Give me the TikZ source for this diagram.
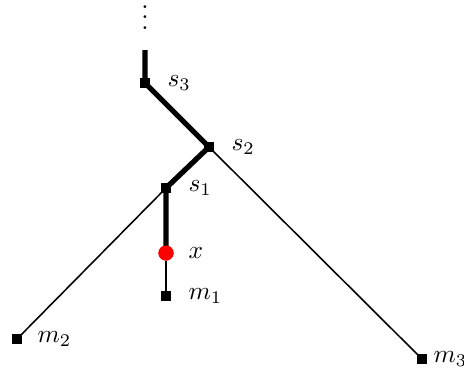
\documentclass[tikz,border=0pt]{standalone}
\begin{document}
\begin{tikzpicture}[x=0.41667pt,y=-0.41667pt,
  vert/.style={draw=none,fill=black,minimum size=4.2pt,inner sep=0pt,outer sep=0pt,rectangle},
  redpt/.style={circle,fill=red,draw=none,minimum size=6.3pt,inner sep=0pt},
  lab/.style={anchor=west,inner sep=0pt,scale=1.06},
  heavy/.style={line width=2.2pt},
  light/.style={line width=0.65pt}]
\useasboundingbox (0,0) rectangle (464,371);
\node[inner sep=0pt,scale=1.1,anchor=south] (dots) at (145,30) {$\vdots$};
\coordinate (top) at (145,50);
\node[vert] (s3) at (145,83) {};
\node[vert] (s2) at (209,147) {};
\node[vert] (s1) at (166,188) {};
\node[redpt] (x) at (166,253) {};
\node[vert] (m1) at (166,296) {};
\node[vert] (m2) at (17,339) {};
\node[vert] (m3) at (422,359) {};
\draw[heavy] (top) -- (s3.center) -- (s2.center) -- (s1.center) -- (x.center);
\draw[light] (x) -- (m1.center);
\draw[light] (s1.center) -- (m2.center);
\draw[light] (s2.center) -- (m3.center);
\node[vert] at (s3) {};
\node[vert] at (s2) {};
\node[vert] at (s1) {};
\node[redpt] at (x) {};
\node[lab] (ls3) at (167,83) {$s_3$};
\node[lab] (ls2) at (231,147) {$s_2$};
\node[lab] (ls1) at (188,188) {$s_1$};
\node[lab] (lx) at (188,253) {$x$};
\node[lab] (lm1) at (188,296) {$m_1$};
\node[lab] (lm2) at (37,339) {$m_2$};
\node[lab] (lm3) at (433,359) {$m_3$};
\end{tikzpicture}
\end{document}
